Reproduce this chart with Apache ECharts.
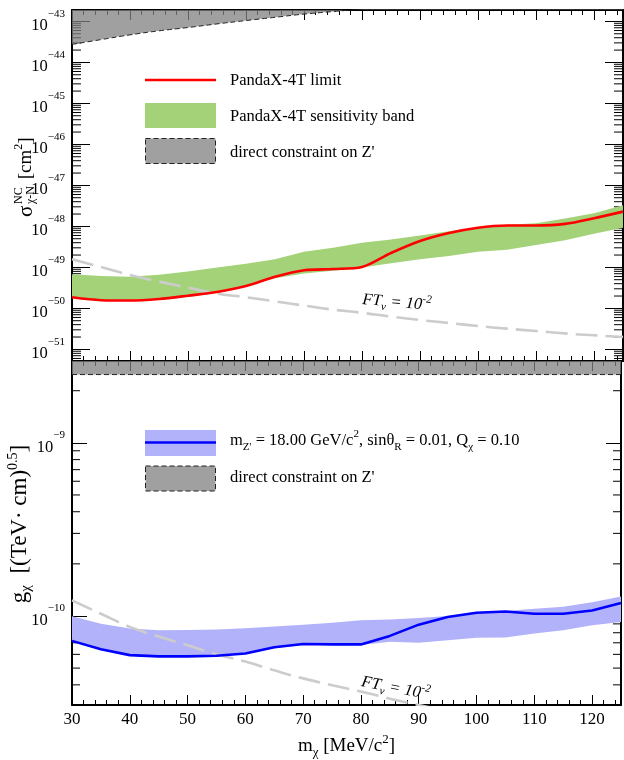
<!DOCTYPE html>
<html><head><meta charset="utf-8">
<script src="https://cdn.jsdelivr.net/npm/echarts@6/dist/echarts.min.js"></script>
<style>html,body{margin:0;padding:0;background:#fff}#c{width:624px;height:760px}</style>
</head><body><div id="c"></div>
<script>
// ---------- data ----------
const massMeV = [30,35,40,45,50,55,60,65,70,75,80,85,90,95,100,105,110,115,120,125];
// top panel: sigma (cm^2)
const pandaxLimit = [1.86e-50,1.58e-50,1.55e-50,1.70e-50,2.04e-50,2.5e-50,3.5e-50,5.9e-50,8.5e-50,9.1e-50,1.02e-49,2.24e-49,4.4e-49,6.9e-49,9.3e-49,1.05e-48,1.05e-48,1.15e-48,1.58e-48,2.29e-48];
const sensUpper = [6.8e-50,6.2e-50,5.9e-50,6.6e-50,7.9e-50,1.0e-49,1.23e-49,1.58e-49,2.4e-49,3.0e-49,4.0e-49,4.8e-49,6.0e-49,7.6e-49,9.5e-49,1.1e-48,1.2e-48,1.55e-48,2.1e-48,3.3e-48];
const sensLower = [1.78e-50,1.58e-50,1.51e-50,1.62e-50,1.9e-50,2.4e-50,3.5e-50,5.4e-50,7.1e-50,8.3e-50,1.0e-49,1.26e-49,1.58e-49,1.9e-49,2.4e-49,2.7e-49,3.5e-49,4.6e-49,6.6e-49,9.3e-49];
const ftSigma = [1.58e-49,1.02e-49,6.5e-50,4.5e-50,3.2e-50,2.3e-50,1.86e-50,1.48e-50,1.17e-50,9.3e-51,7.8e-51,6.3e-51,5.2e-51,4.4e-51,3.7e-51,3.2e-51,2.8e-51,2.45e-51,2.2e-51,2.0e-51];
const zConstraintSigma = [2.75e-44,3.6e-44,4.7e-44,5.9e-44,7.1e-44,8.7e-44,1.05e-43,1.26e-43,1.51e-43,1.74e-43,2.0e-43,2.24e-43,2.5e-43,2.8e-43,3.1e-43,3.4e-43,3.7e-43,4.0e-43,4.3e-43,4.6e-43];
// bottom panel: g_chi ((TeV cm)^0.5)
const gLimit = [7.18e-11,6.43e-11,5.94e-11,5.84e-11,5.84e-11,5.89e-11,6.07e-11,6.6e-11,6.89e-11,6.85e-11,6.85e-11,7.67e-11,8.91e-11,9.86e-11,1.044e-10,1.062e-10,1.03e-10,1.03e-10,1.076e-10,1.19e-10];
const gUpper = [9.96e-11,9.03e-11,8.46e-11,8.27e-11,8.3e-11,8.35e-11,8.49e-11,8.68e-11,8.91e-11,9.15e-11,9.44e-11,9.55e-11,9.74e-11,1.0e-10,1.054e-10,1.069e-10,1.102e-10,1.13e-10,1.202e-10,1.294e-10];
const gLower = [7.1e-11,6.38e-11,5.9e-11,5.8e-11,5.8e-11,5.85e-11,6.0e-11,6.5e-11,6.8e-11,6.8e-11,6.8e-11,7.1e-11,7.0e-11,7.25e-11,7.48e-11,7.5e-11,7.91e-11,8.27e-11,8.83e-11,9.24e-11];
const ftG = [1.23e-10,1.03e-10,8.65e-11,7.6e-11,6.78e-11,6.0e-11,5.45e-11,4.85e-11,4.36e-11,3.98e-11,3.66e-11,3.33e-11,3.06e-11,2.83e-11,2.62e-11,2.45e-11,2.3e-11,2.17e-11,2.05e-11,1.95e-11];
const zConstraintG = [2.48e-9,2.48e-9,2.48e-9,2.48e-9,2.48e-9,2.48e-9,2.48e-9,2.48e-9,2.48e-9,2.48e-9,2.48e-9,2.48e-9,2.48e-9,2.48e-9,2.48e-9,2.48e-9,2.48e-9,2.48e-9,2.48e-9,2.48e-9];
// ticks / ranges
const xTickLabels = [30,40,50,60,70,80,90,100,110,120];
const sigmaExponents = [-51,-50,-49,-48,-47,-46,-45,-44,-43];
const gExponents = [-10,-9];
const minorMantissas = [2,3,4,5,6,7,8,9];
const sigmaRange = [5.2e-52, 1.9e-43];
const gRange = [3.06e-11, 2.97e-9];
const ftLabelSigma = [86, 1.38e-50];
const ftLabelG = [86, 3.82e-11];

// axis units (log axes work on values scaled into a safe floating range)
const SIGMA_UNIT = 1e-50;
const G_UNIT = 1e-10;

// ---------- style ----------
const SERIF = 'Liberation Serif, Times New Roman, serif';
const pairs = (arr, unit) => massMeV.map((x, i) => [x, arr[i] / unit]);

function minorTickData(range, unit) {
  const out = [];
  const lo = Math.floor(Math.log10(range[0])), hi = Math.ceil(Math.log10(range[1]));
  for (let e = lo; e <= hi; e++) {
    minorMantissas.forEach(m => {
      const v = m * Math.pow(10, e);
      if (v > range[0] && v < range[1]) out.push([30, v / unit]);
    });
  }
  return out;
}

function logLabel(exps, unit) {
  const shift = Math.round(Math.log10(unit));
  return function (v) {
    const e = Math.log10(v);
    const r = Math.round(e);
    if (Math.abs(e - r) > 0.01) return '';
    const ex = r + shift;
    if (exps.indexOf(ex) < 0) return '';
    return '{b|10}{s|\u2212' + (-ex) + '}';
  };
}
const yRich = {
  b: {fontSize: 16.5, fontFamily: SERIF, color: '#000', lineHeight: 26, verticalAlign: 'bottom'},
  s: {fontSize: 11, fontFamily: SERIF, color: '#000', lineHeight: 13, verticalAlign: 'top'}
};

function xAx(grid, pos, major, labels) {
  return {
    type: 'value', gridIndex: grid, position: pos, min: 30, max: 125,
    interval: major ? 10 : 2,
    axisLine: {show: major, lineStyle: {color: '#000', width: 2}},
    axisTick: {show: true, inside: true, length: major ? 10 : 5, lineStyle: {color: '#000', width: 1}},
    axisLabel: labels ? {
      show: true, margin: 6, fontSize: 17, fontFamily: SERIF, color: '#000',
      formatter: v => xTickLabels.indexOf(v) >= 0 ? String(v) : ''
    } : {show: false},
    splitLine: {show: false}
  };
}
function yAx(grid, pos, range, unit, exps, tickLen, labels) {
  return {
    type: 'log', logBase: 10, gridIndex: grid, position: pos, min: range[0] / unit, max: range[1] / unit,
    axisLine: {show: true, lineStyle: {color: '#000', width: 2}},
    axisTick: {show: true, inside: true, length: tickLen, lineStyle: {color: '#000', width: 1}},
    axisLabel: labels ? {show: true, margin: 7, formatter: logLabel(exps, unit), rich: yRich} : {show: false},
    splitLine: {show: false}, minorTick: {show: false}
  };
}

function minorTickSeries(xi, yi, range, unit, len) {
  return {
    type: 'custom', xAxisIndex: xi, yAxisIndex: yi, z: 1, silent: true,
    data: minorTickData(range, unit), encode: {x: 0, y: 1},
    renderItem: function (params, api) {
      const y = api.coord([api.value(0), api.value(1)])[1];
      const cs = params.coordSys;
      return {type: 'group', children: [
        {type: 'line', shape: {x1: cs.x, y1: y, x2: cs.x + len, y2: y}, style: {stroke: '#000', lineWidth: 1}},
        {type: 'line', shape: {x1: cs.x + cs.width - len, y1: y, x2: cs.x + cs.width, y2: y}, style: {stroke: '#000', lineWidth: 1}}
      ]};
    }
  };
}
function bandSeries(name, xi, yi, upper, lower, unit, color) {
  return {
    name: name, type: 'custom', xAxisIndex: xi, yAxisIndex: yi, z: 2, silent: true,
    data: massMeV.map((x, i) => [x, upper[i] / unit, lower[i] / unit]), encode: {x: 0, y: [1, 2]},
    renderItem: function (params, api) {
      if (params.dataIndex !== 0) return null;
      const pts = [];
      massMeV.forEach((x, i) => pts.push(api.coord([x, upper[i] / unit])));
      for (let i = massMeV.length - 1; i >= 0; i--) pts.push(api.coord([massMeV[i], lower[i] / unit]));
      return {type: 'polygon', shape: {points: pts}, style: {fill: color}};
    }
  };
}
function ftLabel(coord, unit, rot) {
  return {
    symbol: 'circle', symbolSize: 1, itemStyle: {color: 'rgba(0,0,0,0)'}, silent: true,
    data: [{coord: [coord[0], coord[1] / unit]}],
    label: {
      show: true, position: 'inside', rotate: rot,
      formatter: '{i|FT}{sub|\u03bd}{i| = 10}{sup|-2}',
      rich: {
        i: {fontSize: 16.5, fontFamily: SERIF, fontStyle: 'italic', color: '#000', lineHeight: 22, verticalAlign: 'middle'},
        sub: {fontSize: 11, fontFamily: SERIF, fontStyle: 'italic', color: '#000', lineHeight: 11, verticalAlign: 'bottom'},
        sup: {fontSize: 11, fontFamily: SERIF, fontStyle: 'italic', color: '#000', lineHeight: 11, verticalAlign: 'top'}
      }
    }
  };
}

const GRAY_FILL = 'rgba(128,128,128,0.75)';
const GREEN = '#a3d279';
const BLUE_BAND = '#b2b2fb';

const option = {
  animation: false,
  backgroundColor: '#fff',
  grid: [
    {left: 72, right: 1, top: 10, height: 351},
    {left: 72, right: 1, top: 361, bottom: 53}
  ],
  xAxis: [
    xAx(0, 'bottom', true, false), xAx(0, 'bottom', false, false),
    xAx(0, 'top', true, false), xAx(0, 'top', false, false),
    Object.assign(xAx(1, 'bottom', true, true), {
      name: '{t|m}{sub|\u03c7}{t| [MeV/c}{sup|2}{t|]}', nameLocation: 'middle', nameGap: 28,
      nameTextStyle: {rich: {
        t: {fontSize: 19, fontFamily: SERIF, color: '#000', lineHeight: 26, verticalAlign: 'middle'},
        sub: {fontSize: 13, fontFamily: SERIF, color: '#000', lineHeight: 13, verticalAlign: 'bottom'},
        sup: {fontSize: 13, fontFamily: SERIF, color: '#000', lineHeight: 13, verticalAlign: 'top'}
      }}
    }),
    xAx(1, 'bottom', false, false),
    xAx(1, 'top', true, false), xAx(1, 'top', false, false)
  ],
  yAxis: [
    yAx(0, 'left', sigmaRange, SIGMA_UNIT, sigmaExponents, 18, true),
    yAx(0, 'right', sigmaRange, SIGMA_UNIT, sigmaExponents, 18, false),
    yAx(1, 'left', gRange, G_UNIT, gExponents, 15, true),
    yAx(1, 'right', gRange, G_UNIT, gExponents, 15, false)
  ],
  series: [
    minorTickSeries(0, 0, sigmaRange, SIGMA_UNIT, 9),
    minorTickSeries(4, 2, gRange, G_UNIT, 8),
    bandSeries('PandaX-4T sensitivity band', 0, 0, sensUpper, sensLower, SIGMA_UNIT, GREEN),
    bandSeries('m_Z band', 4, 2, gUpper, gLower, G_UNIT, BLUE_BAND),
    {
      name: "direct constraint on Z'", type: 'line', xAxisIndex: 0, yAxisIndex: 0, z: 3,
      data: pairs(zConstraintSigma, SIGMA_UNIT), symbol: 'none', silent: true, smooth: true,
      lineStyle: {color: '#222', width: 1, type: [5, 3]},
      areaStyle: {origin: 'end', color: GRAY_FILL, opacity: 1}
    },
    {
      name: "direct constraint on Z' (g)", type: 'line', xAxisIndex: 4, yAxisIndex: 2, z: 3,
      data: pairs(zConstraintG, G_UNIT), symbol: 'none', silent: true,
      lineStyle: {color: '#222', width: 1, type: [5, 3]},
      areaStyle: {origin: 'end', color: GRAY_FILL, opacity: 1}
    },
    {
      name: 'FT sigma', type: 'line', xAxisIndex: 0, yAxisIndex: 0, z: 4,
      data: pairs(ftSigma, SIGMA_UNIT), symbol: 'none', smooth: true, silent: true,
      lineStyle: {color: '#cccccc', width: 2.6, type: [22, 8]},
      markPoint: ftLabel(ftLabelSigma, SIGMA_UNIT, -5)
    },
    {
      name: 'FT g', type: 'line', xAxisIndex: 4, yAxisIndex: 2, z: 4,
      data: pairs(ftG, G_UNIT), symbol: 'none', smooth: true, silent: true,
      lineStyle: {color: '#cccccc', width: 2.6, type: [22, 8]},
      markPoint: ftLabel(ftLabelG, G_UNIT, -11)
    },
    {
      name: 'PandaX-4T limit', type: 'line', xAxisIndex: 0, yAxisIndex: 0, z: 5,
      data: pairs(pandaxLimit, SIGMA_UNIT), symbol: 'none', smooth: 0.3, silent: true,
      lineStyle: {color: '#ff0000', width: 2.6}
    },
    {
      name: 'g limit', type: 'line', xAxisIndex: 4, yAxisIndex: 2, z: 5,
      data: pairs(gLimit, G_UNIT), symbol: 'none', silent: true,
      lineStyle: {color: '#0000ff', width: 2.6}
    }
  ],
  graphic: [
    // top legend
    {type: 'line', shape: {x1: 145, y1: 80, x2: 216, y2: 80}, style: {stroke: '#ff0000', lineWidth: 2.6}, z: 10},
    {type: 'rect', shape: {x: 145, y: 103, width: 71, height: 25}, style: {fill: GREEN}, z: 10},
    {type: 'rect', shape: {x: 145.5, y: 138.5, width: 70, height: 25}, style: {fill: '#a0a0a0', stroke: '#222', lineWidth: 1, lineDash: [5, 3]}, z: 10},
    {type: 'text', x: 230, y: 81, z: 10, style: {text: 'PandaX-4T limit', font: '16.5px ' + SERIF, fill: '#000', verticalAlign: 'middle'}},
    {type: 'text', x: 230, y: 117, z: 10, style: {text: 'PandaX-4T sensitivity band', font: '16.5px ' + SERIF, fill: '#000', verticalAlign: 'middle'}},
    {type: 'text', x: 230, y: 153, z: 10, style: {text: "direct constraint on Z'", font: '16.5px ' + SERIF, fill: '#000', verticalAlign: 'middle'}},
    // bottom legend
    {type: 'rect', shape: {x: 145, y: 430, width: 71, height: 26}, style: {fill: BLUE_BAND}, z: 10},
    {type: 'line', shape: {x1: 145, y1: 442.5, x2: 216, y2: 442.5}, style: {stroke: '#0000ff', lineWidth: 2.6}, z: 11},
    {type: 'rect', shape: {x: 145.5, y: 466, width: 70, height: 25}, style: {fill: '#a0a0a0', stroke: '#222', lineWidth: 1, lineDash: [5, 3]}, z: 10},
    {type: 'text', x: 230, y: 441, z: 10, style: {
      text: "{t|m}{sub|Z'}{t| = 18.00 GeV/c}{sup|2}{t|, sin\u03b8}{sub|R}{t| = 0.01, Q}{sub|\u03c7}{t| = 0.10}",
      verticalAlign: 'middle',
      rich: {
        t: {fontSize: 16.5, fontFamily: SERIF, fill: '#000', lineHeight: 24, verticalAlign: 'middle'},
        sub: {fontSize: 11, fontFamily: SERIF, fill: '#000', lineHeight: 11, verticalAlign: 'bottom'},
        sup: {fontSize: 11, fontFamily: SERIF, fill: '#000', lineHeight: 11, verticalAlign: 'top'}
      }}},
    {type: 'text', x: 230, y: 478, z: 10, style: {text: "direct constraint on Z'", font: '16.5px ' + SERIF, fill: '#000', verticalAlign: 'middle'}},
    // top y title
    {type: 'group', x: 26, y: 217, rotation: Math.PI / 2, z: 10, children: [
      {type: 'text', x: 0, y: 0, style: {text: '\u03c3', font: '21px ' + SERIF, fill: '#000', verticalAlign: 'middle'}},
      {type: 'text', x: 13, y: -7, style: {text: 'NC', font: '12px ' + SERIF, fill: '#000', verticalAlign: 'middle'}},
      {type: 'text', x: 13, y: 5, style: {text: '\u03c7-N', font: '12px ' + SERIF, fill: '#000', verticalAlign: 'middle'}},
      {type: 'text', x: 33, y: 0, style: {text: '{t| [cm}{s|2}{t|]}', verticalAlign: 'middle', rich: {
        t: {fontSize: 19, fontFamily: SERIF, fill: '#000', lineHeight: 26, verticalAlign: 'middle'},
        s: {fontSize: 12, fontFamily: SERIF, fill: '#000', lineHeight: 12, verticalAlign: 'top'}
      }}}
    ]},
    // bottom y title
    {type: 'text', x: 20, y: 524, rotation: Math.PI / 2, z: 10, style: {
      text: '{t|g}{sub|\u03c7}{t|  [(TeV\u00b7 cm)}{sup|0.5}{t|]}', align: 'center', verticalAlign: 'middle',
      rich: {
        t: {fontSize: 23, fontFamily: SERIF, fill: '#000', lineHeight: 28, verticalAlign: 'middle'},
        sub: {fontSize: 15, fontFamily: SERIF, fill: '#000', lineHeight: 14, verticalAlign: 'bottom'},
        sup: {fontSize: 14, fontFamily: SERIF, fill: '#000', lineHeight: 14, verticalAlign: 'top'}
      }}}
  ]
};

const chart = echarts.init(document.getElementById('c'), null, {renderer: 'canvas'});
chart.setOption(option);
</script>
</body></html>
